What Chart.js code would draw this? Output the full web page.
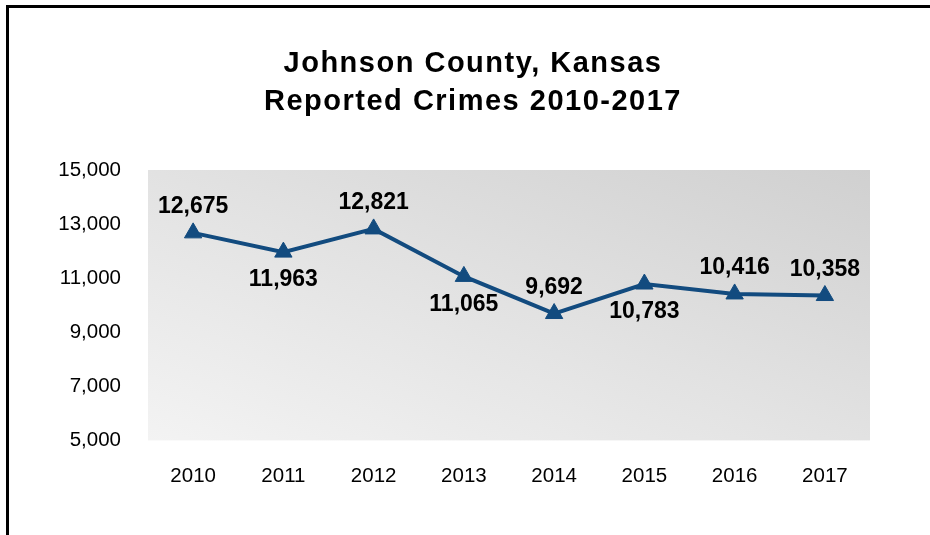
<!DOCTYPE html>
<html>
<head>
<meta charset="utf-8">
<script src="https://cdn.jsdelivr.net/npm/chart.js@4"></script>
<style>
  html, body { margin: 0; padding: 0; background: #fff; }
  #wrap { position: relative; width: 930px; height: 535px; }
</style>
</head>
<body>
<div id="wrap"><canvas id="Chart1" width="930" height="535"></canvas></div>
<script>
const years = ['2010', '2011', '2012', '2013', '2014', '2015', '2016', '2017'];
const crimes = [12675, 11963, 12821, 11065, 9692, 10783, 10416, 10358];
// +1 puts the value label above the point, -1 below
const label_side = [1, -1, 1, -1, 1, -1, 1, 1];
const title_lines = ['Johnson County, Kansas', 'Reported Crimes 2010-2017'];

const line_color = '#124b7f';
const font_family = '"Liberation Sans", Arial, sans-serif';

// grey gradient behind the plot, dark at the top right, light at the bottom left
// (isolines run along the top-left / bottom-right diagonal)
const plot_background = {
    id: 'plot_background',
    beforeDraw(chart) {
        let {ctx, chartArea: a} = chart;
        let w = a.right - a.left, h = a.bottom - a.top;
        let cx = a.left + w / 2, cy = a.top + h / 2;
        let s = w * h / (w * w + h * h);
        let g = ctx.createLinearGradient(cx - s * h, cy + s * w, cx + s * h, cy - s * w);
        g.addColorStop(0, '#f3f3f3');
        g.addColorStop(0.5, '#e2e2e2');
        g.addColorStop(1, '#d0d0d0');
        ctx.save();
        ctx.fillStyle = g;
        ctx.fillRect(a.left, a.top, w, h);
        ctx.restore();
    }
};

// two-line title, centred on the page
const page_title = {
    id: 'page_title',
    afterDraw(chart) {
        let ctx = chart.ctx;
        ctx.save();
        ctx.font = 'bold 29px ' + font_family;
        ctx.letterSpacing = '1.5px';
        ctx.fillStyle = '#000';
        ctx.textAlign = 'center';
        ctx.textBaseline = 'alphabetic';
        ctx.fillText(title_lines[0], 473, 72);
        ctx.fillText(title_lines[1], 473, 110);
        ctx.restore();
    }
};

// frame line along the top and left edge
const frame = {
    id: 'frame',
    afterDraw(chart) {
        let ctx = chart.ctx;
        ctx.save();
        ctx.strokeStyle = '#000';
        ctx.lineWidth = 3;
        ctx.beginPath();
        ctx.moveTo(7.5, 535);
        ctx.lineTo(7.5, 6.5);
        ctx.lineTo(930, 6.5);
        ctx.stroke();
        ctx.restore();
    }
};

// value labels next to each point
const value_labels = {
    id: 'value_labels',
    afterDatasetsDraw(chart) {
        let ctx = chart.ctx;
        let meta = chart.getDatasetMeta(0);
        ctx.save();
        ctx.font = 'bold 23px ' + font_family;
        ctx.fillStyle = '#000';
        ctx.textAlign = 'center';
        ctx.textBaseline = 'middle';
        meta.data.forEach((pt, i) => {
            let dy = label_side[i] > 0 ? -26 : 28;
            ctx.fillText(crimes[i].toLocaleString('en-US'), pt.x, pt.y + dy);
        });
        ctx.restore();
    }
};

let data = {
    labels: years,
    datasets: [{
        label: 'Reported Crimes',
        data: crimes,
        borderColor: line_color,
        backgroundColor: line_color,
        borderWidth: 4,
        pointStyle: 'triangle',
        pointRadius: 10,
        pointBorderWidth: 1,
        tension: 0
    }]
};

let config = {
    type: 'line',
    data: data,
    options: {
        responsive: false,
        animation: false,
        layout: { padding: { left: 0, right: 60, top: 170, bottom: 22 } },
        plugins: {
            legend: { display: false },
            tooltip: { enabled: false },
            title: { display: false }
        },
        scales: {
            x: {
                offset: true,
                grid: { display: false, drawTicks: false },
                border: { display: false },
                ticks: { color: '#000', font: { family: font_family, size: 20.5 }, padding: 24 }
            },
            y: {
                min: 5000,
                max: 15000,
                afterFit(scale) { scale.width = 148; },
                grid: { display: false, drawTicks: false },
                border: { display: false },
                ticks: {
                    stepSize: 2000,
                    color: '#000',
                    padding: 27,
                    font: { family: font_family, size: 20.5 },
                    callback: (v) => v.toLocaleString('en-US')
                }
            }
        }
    },
    plugins: [plot_background, value_labels, page_title, frame]
};

new Chart(document.getElementById('Chart1'), config);
</script>
</body>
</html>
